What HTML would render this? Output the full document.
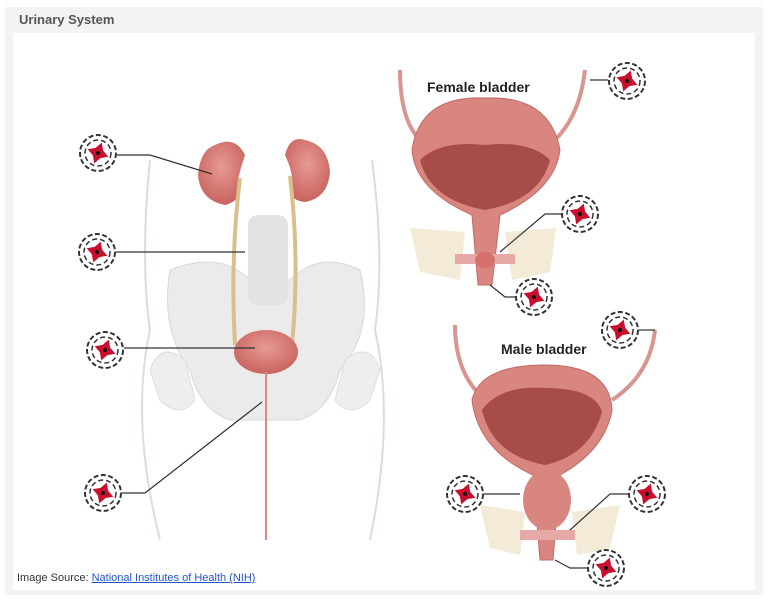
<!DOCTYPE html>
<html><head><style>
body{margin:0;background:#fff;width:768px;height:604px;overflow:hidden;font-family:"Liberation Sans",sans-serif}
.outer{position:absolute;left:5px;top:7px;width:758px;height:588px;background:#f3f3f3}
.inner{position:absolute;left:13px;top:33px;width:742px;height:557px;background:#fff}
.title{position:absolute;left:19px;top:12px;font-size:13px;font-weight:bold;color:#555}
.src{position:absolute;left:17px;top:572px;font-size:11px;color:#333}
.src a{color:#2255cc;text-decoration:underline}
</style></head><body>
<div class="outer"></div><div class="inner"></div>
<div class="title">Urinary System</div>
<svg width="768" height="604" style="position:absolute;left:0;top:0">
<defs>
<g id="m">
<circle r="18" fill="#fff" stroke="#333" stroke-width="2" stroke-dasharray="5 2.5"/>
<circle r="13" fill="none" stroke="#333" stroke-width="1.5" stroke-dasharray="5 3"/>
<polygon points="0,-11 4,-4 11,0 4,4 0,11 -4,4 -11,0 -4,-4" transform="rotate(20)" fill="#c8102e"/>
<circle r="2" fill="#111"/>
</g>
<radialGradient id="pk" cx=".5" cy=".4" r=".6"><stop offset="0" stop-color="#e79a95"/><stop offset="1" stop-color="#c8635e"/></radialGradient>
</defs>
<path d="M150,160 Q140,260 150,330 Q130,420 160,540" fill="none" stroke="#e6d8d8" stroke-width="2"/>
<path d="M372,160 Q385,260 375,330 Q395,420 370,540" fill="none" stroke="#e6d8d8" stroke-width="2"/>
<path d="M170,270 Q220,250 250,280 L290,280 Q320,250 360,270 Q375,330 340,370 Q330,410 300,420 L230,420 Q200,410 190,370 Q160,330 170,270Z" fill="#ebebeb" stroke="#d8d8d8"/>
<rect x="248" y="215" width="40" height="90" rx="10" fill="#e2e2e2"/>
<path d="M150,370 Q160,340 185,360 L195,400 Q180,420 160,400Z" fill="#eee" stroke="#ddd"/>
<path d="M380,370 Q370,340 345,360 L335,400 Q350,420 370,400Z" fill="#eee" stroke="#ddd"/>
<path d="M215,145 Q235,135 245,155 Q240,170 238,180 Q245,200 225,205 Q200,200 198,175 Q200,150 215,145Z" fill="url(#pk)"/>
<path d="M305,140 Q290,135 285,155 Q292,170 292,180 Q285,200 305,202 Q328,198 330,172 Q328,145 305,140Z" fill="url(#pk)"/>
<path d="M240,178 Q230,260 235,345" fill="none" stroke="#d8c08a" stroke-width="4"/>
<path d="M290,176 Q300,260 292,345" fill="none" stroke="#d8c08a" stroke-width="4"/>
<ellipse cx="266" cy="352" rx="32" ry="22" fill="url(#pk)"/>
<line x1="266" y1="372" x2="266" y2="540" stroke="#d88" stroke-width="2"/>
<path d="M400,70 Q400,120 420,140" fill="none" stroke="#d99590" stroke-width="4"/>
<path d="M585,70 Q580,115 555,140" fill="none" stroke="#d99590" stroke-width="4"/>
<path d="M412,150 Q420,95 485,98 Q550,95 560,150 Q555,190 500,215 L492,285 L478,285 L472,215 Q415,190 412,150Z" fill="#d98580" stroke="#c06a66"/>
<path d="M420,160 Q440,140 485,145 Q530,140 550,160 Q540,200 485,210 Q430,200 420,160Z" fill="#a84c4a"/>
<path d="M410,228 L465,232 L460,280 L420,272Z" fill="#f4ead8"/>
<path d="M556,228 L505,232 L512,280 L550,272Z" fill="#f4ead8"/>
<rect x="455" y="254" width="60" height="10" fill="#e7a8a8"/>
<ellipse cx="485" cy="260" rx="10" ry="8" fill="#d56f6c"/>
<text x="427" y="92" font-size="14" font-weight="bold" fill="#222">Female bladder</text>
<path d="M455,325 Q455,370 480,395" fill="none" stroke="#d99590" stroke-width="4"/>
<path d="M655,330 Q650,375 612,400" fill="none" stroke="#d99590" stroke-width="4"/>
<path d="M472,400 Q480,365 545,365 Q610,365 612,410 Q605,450 560,475 L553,560 L540,560 L533,475 Q478,450 472,400Z" fill="#d98580" stroke="#c06a66"/>
<path d="M482,410 Q500,385 545,388 Q595,388 602,412 Q590,455 545,465 Q492,455 482,410Z" fill="#a84c4a"/>
<ellipse cx="547" cy="500" rx="24" ry="30" fill="#d98580"/>
<path d="M480,505 L525,512 L520,555 L490,548Z" fill="#f4ead8"/>
<path d="M620,505 L572,512 L577,555 L610,548Z" fill="#f4ead8"/>
<rect x="520" y="530" width="55" height="10" fill="#e7a8a8"/>
<text x="501" y="354" font-size="14" font-weight="bold" fill="#222">Male bladder</text>
<g fill="none" stroke="#333" stroke-width="1.2">
<path d="M117,155 L150,155 L212,174"/>
<path d="M116,252 L245,252"/>
<path d="M124,348 L255,348"/>
<path d="M122,493 L145,493 L262,402"/>
<path d="M608,80 L590,80"/>
<path d="M561,214 L545,214 L500,252"/>
<path d="M515,297 L505,297 L490,285"/>
<path d="M639,330 L655,330"/>
<path d="M484,494 L520,494"/>
<path d="M628,494 L610,494 L570,530"/>
<path d="M587,568 L570,568 L555,560"/>
</g>
<use href="#m" x="98" y="153"/><use href="#m" x="97" y="252"/><use href="#m" x="105" y="350"/><use href="#m" x="103" y="493"/>
<use href="#m" x="627" y="81"/><use href="#m" x="580" y="214"/><use href="#m" x="534" y="297"/><use href="#m" x="620" y="330"/>
<use href="#m" x="465" y="494"/><use href="#m" x="647" y="494"/><use href="#m" x="606" y="568"/>
</svg>
<div class="src">Image Source: <a>National Institutes of Health (NIH)</a></div>
</body></html>
